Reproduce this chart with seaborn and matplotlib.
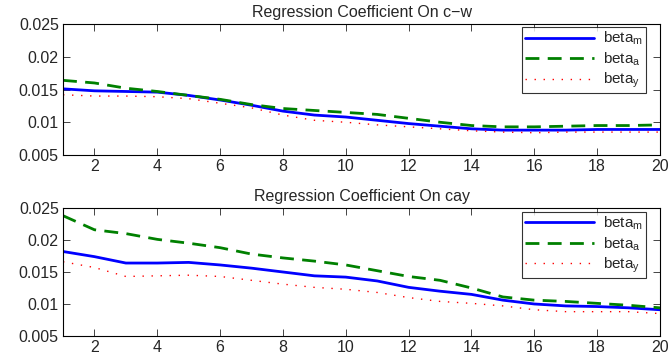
import numpy as np
import pandas as pd
import matplotlib
matplotlib.use("Agg")
import matplotlib.pyplot as plt
import seaborn as sns

horizon = list(range(1, 21))

cw_beta_m = [0.0151, 0.0148, 0.0147, 0.0146, 0.0141, 0.0134, 0.0126, 0.0117, 0.0111, 0.0108,
             0.0103, 0.0098, 0.0094, 0.0090, 0.0088, 0.0088, 0.0088, 0.0089, 0.0089, 0.0089]
cw_beta_a = [0.0164, 0.0160, 0.0152, 0.0147, 0.0141, 0.0135, 0.0127, 0.0121, 0.0118, 0.0115,
             0.0112, 0.0106, 0.0100, 0.0095, 0.0093, 0.0093, 0.0094, 0.0095, 0.0095, 0.0096]
cw_beta_y = [0.0142, 0.0140, 0.0140, 0.0139, 0.0136, 0.0129, 0.0122, 0.0111, 0.0103, 0.0100,
             0.0096, 0.0093, 0.0090, 0.0087, 0.0085, 0.0084, 0.0085, 0.0085, 0.0085, 0.0085]

cay_beta_m = [0.0182, 0.0174, 0.0164, 0.0164, 0.0165, 0.0161, 0.0156, 0.0150, 0.0144, 0.0142,
              0.0136, 0.0126, 0.0120, 0.0115, 0.0106, 0.0100, 0.0097, 0.0096, 0.0094, 0.0091]
cay_beta_a = [0.0238, 0.0216, 0.0210, 0.0201, 0.0195, 0.0188, 0.0178, 0.0172, 0.0167, 0.0161,
              0.0152, 0.0143, 0.0137, 0.0125, 0.0111, 0.0106, 0.0104, 0.0101, 0.0098, 0.0094]
cay_beta_y = [0.0166, 0.0157, 0.0143, 0.0144, 0.0145, 0.0143, 0.0137, 0.0131, 0.0126, 0.0123,
              0.0118, 0.0110, 0.0104, 0.0101, 0.0097, 0.0091, 0.0088, 0.0088, 0.0088, 0.0085]

titles = ["Regression Coefficient On c\u2212w", "Regression Coefficient On cay"]
series_labels = ["beta$_\\mathregular{m}$", "beta$_\\mathregular{a}$", "beta$_\\mathregular{y}$"]
xticks = [2, 4, 6, 8, 10, 12, 14, 16, 18, 20]
yticks = [0.005, 0.01, 0.015, 0.02, 0.025]
ytick_labels = ["0.005", "0.01", "0.015", "0.02", "0.025"]

sns.set_style("ticks")
plt.rcParams["font.family"] = ["Liberation Sans", "DejaVu Sans"]
plt.rcParams["mathtext.fontset"] = "custom"
plt.rcParams["mathtext.rm"] = "Liberation Sans"
plt.rcParams["mathtext.it"] = "Liberation Sans"

fig = plt.figure(figsize=(6.71, 3.61), dpi=100)
ax1 = fig.add_axes([0.0939, 0.5706, 0.8897, 0.3629])
ax2 = fig.add_axes([0.0939, 0.0693, 0.8897, 0.3545])

styles = [
    dict(color="#0000ff", linestyle="-", linewidth=2.0),
    dict(color="#008000", linestyle=(0, (5, 3)), linewidth=2.0),
    dict(color="#ff0000", linestyle=(0, (1, 5.5)), linewidth=1.0),
]

panels = [
    (ax1, [cw_beta_m, cw_beta_a, cw_beta_y], 0.977),
    (ax2, [cay_beta_m, cay_beta_a, cay_beta_y], 0.971),
]

for (ax, series, ytop), title in zip(panels, titles):
    for vals, lab, st in zip(series, series_labels, styles):
        df = pd.DataFrame({"h": horizon, "v": vals})
        sns.lineplot(data=df, x="h", y="v", ax=ax, label=lab, **st)
    ax.set_xlim(1, 20)
    ax.set_ylim(0.005, 0.025)
    ax.set_xticks(xticks)
    ax.set_yticks(yticks)
    ax.set_yticklabels(ytick_labels)
    ax.set_xlabel("")
    ax.set_ylabel("")
    ax.set_title(title, fontsize=11.5, pad=5)
    ax.tick_params(direction="in", top=True, right=True, labelsize=11.5, length=5, width=0.6, pad=3)
    for sp in ax.spines.values():
        sp.set_visible(True)
        sp.set_linewidth(0.8)
        sp.set_color("black")
    leg = ax.legend(loc="upper right", bbox_to_anchor=(0.9766, ytop), fontsize=11, frameon=True,
                    fancybox=False, handlelength=4.5, borderaxespad=0.0, labelspacing=0.2,
                    handletextpad=0.6, borderpad=0.2)
    leg.get_frame().set_edgecolor("black")
    leg.get_frame().set_linewidth(0.8)

fig.savefig("out.png", dpi=100)
